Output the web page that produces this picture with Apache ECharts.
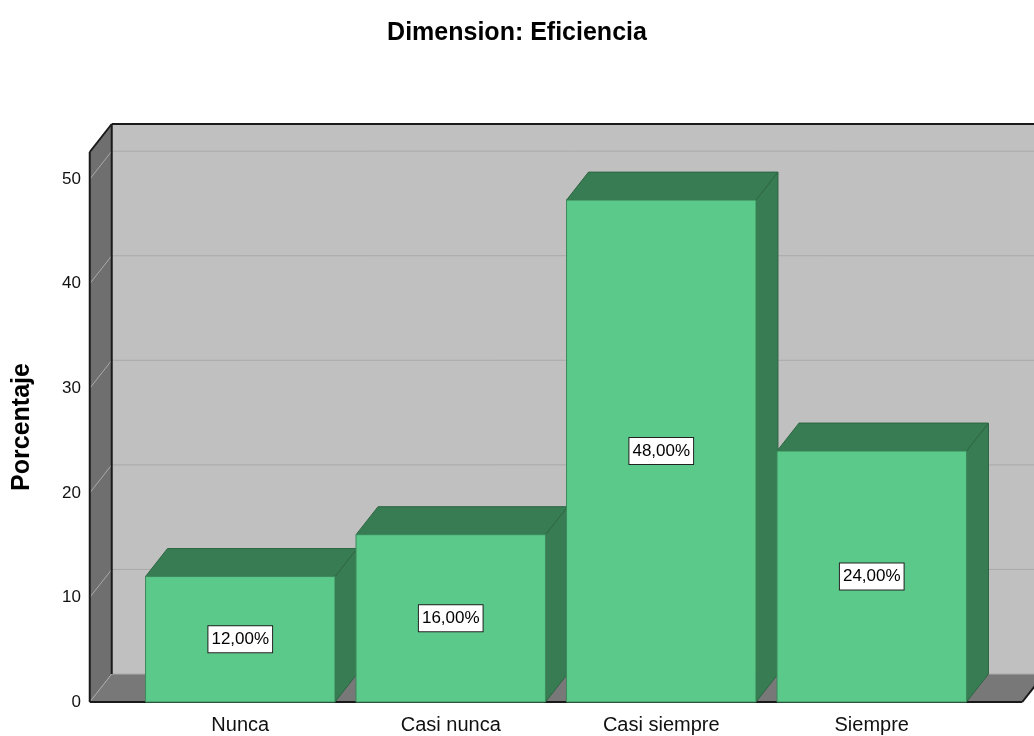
<!DOCTYPE html>
<html>
<head>
<meta charset="utf-8">
<title>Dimension: Eficiencia</title>
<script src="https://cdn.jsdelivr.net/npm/echarts@6/dist/echarts.min.js"></script>
<style>
  html, body { margin: 0; padding: 0; background: #fff; }
  #chart { width: 1034px; height: 736px; }
</style>
</head>
<body>
<div id="chart"></div>
<script>
// datos
const categories = ['Nunca', 'Casi nunca', 'Casi siempre', 'Siempre']
const percentages = [12, 16, 48, 24]
const yTicks = [0, 10, 20, 30, 40, 50]
const yMax = 52.6

const fontFamily = 'Liberation Sans, Arial, sans-serif'
// profundidad de la vista 3D (px)
const depthX = 22
const depthY = -28
const boxPad = 0.715 // extensión de la caja fuera de las categorías

const formatPct = v => v.toFixed(2).replace('.', ',') + '%'

// caja 3D: pared izquierda, pared del fondo, piso y líneas de cuadrícula
function renderBox (params, api) {
  const bw = api.size([1, 0])[0]
  const xl = api.coord([0, 0])[0] - boxPad * bw
  const xr = api.coord([categories.length - 1, 0])[0] + boxPad * bw
  const yb = api.coord([0, 0])[1]
  const yt = api.coord([0, yMax])[1]
  const edge = { stroke: '#1a1a1a', lineWidth: 2, fill: null }
  const children = [
    { type: 'polygon', shape: { points: [[xl + depthX, yt + depthY], [xr + depthX + 40, yt + depthY], [xr + depthX + 40, yb + depthY], [xl + depthX, yb + depthY]] }, style: { fill: '#c0c0c0' } },
    { type: 'polygon', shape: { points: [[xl, yt], [xl + depthX, yt + depthY], [xl + depthX, yb + depthY], [xl, yb]] }, style: { fill: '#6f6f6f' } },
    { type: 'polygon', shape: { points: [[xl, yb], [xl + depthX, yb + depthY], [xr + depthX, yb + depthY], [xr, yb]] }, style: { fill: '#787878' } }
  ]
  yTicks.forEach(t => {
    const y = api.coord([0, t])[1]
    children.push({ type: 'polyline', shape: { points: [[xl, y], [xl + depthX, y + depthY], [xr + depthX + 40, y + depthY]] }, style: { stroke: '#a9a9a9', lineWidth: 1, fill: null } })
  })
  children.push(
    { type: 'line', shape: { x1: xl, y1: yt, x2: xl, y2: yb }, style: edge },
    { type: 'line', shape: { x1: xl, y1: yt, x2: xl + depthX, y2: yt + depthY }, style: edge },
    { type: 'line', shape: { x1: xl + depthX, y1: yt + depthY, x2: xr + depthX + 40, y2: yt + depthY }, style: edge },
    { type: 'line', shape: { x1: xl + depthX, y1: yt + depthY, x2: xl + depthX, y2: yb + depthY }, style: edge },
    { type: 'line', shape: { x1: xl, y1: yb, x2: xr, y2: yb }, style: edge },
    { type: 'line', shape: { x1: xr, y1: yb, x2: xr + depthX, y2: yb + depthY }, style: edge }
  )
  return { type: 'group', children }
}

// barras 3D con etiqueta de porcentaje
function renderBar (params, api) {
  const idx = api.value(0)
  const val = api.value(1)
  const bw = api.size([1, 0])[0] * 0.9
  const base = api.coord([idx, 0])
  const top = api.coord([idx, val])
  const mid = api.coord([idx, val / 2])
  const x0 = base[0] - bw / 2
  const x1 = base[0] + bw / 2
  const yb = base[1]
  const yt = top[1]
  const dark = { fill: '#377c52', stroke: '#2d6643', lineWidth: 1 }
  return {
    type: 'group',
    children: [
      { type: 'polygon', shape: { points: [[x1, yt], [x1 + depthX, yt + depthY], [x1 + depthX, yb + depthY], [x1, yb]] }, style: dark },
      { type: 'polygon', shape: { points: [[x0, yt], [x0 + depthX, yt + depthY], [x1 + depthX, yt + depthY], [x1, yt]] }, style: dark },
      { type: 'rect', shape: { x: x0, y: yt, width: bw, height: yb - yt }, style: { fill: '#5bc98a', stroke: '#3d8a5c', lineWidth: 1 } },
      {
        type: 'text',
        x: mid[0],
        y: mid[1],
        style: {
          text: formatPct(val),
          fontFamily,
          fontSize: 17,
          fill: '#000',
          align: 'center',
          verticalAlign: 'middle',
          backgroundColor: '#fff',
          borderColor: '#222',
          borderWidth: 1,
          padding: [5, 3, 4, 3]
        }
      }
    ]
  }
}

const chart = echarts.init(document.getElementById('chart'))
chart.setOption({
  backgroundColor: '#fff',
  animation: false,
  title: {
    text: 'Dimension: Eficiencia',
    left: 'center',
    top: 16,
    textStyle: { fontFamily, fontSize: 25, fontWeight: 'bold', color: '#000' }
  },
  grid: { left: 135, right: 57, top: 152, bottom: 34 },
  xAxis: {
    type: 'category',
    data: categories,
    axisLine: { show: false },
    axisTick: { show: false },
    axisLabel: { fontFamily, fontSize: 20, color: '#111', margin: 13 }
  },
  yAxis: {
    type: 'value',
    min: 0,
    max: yMax,
    interval: 10,
    offset: 46,
    name: 'Porcentaje',
    nameLocation: 'middle',
    nameGap: 54,
    nameTextStyle: { fontFamily, fontSize: 25, fontWeight: 'bold', color: '#000' },
    axisLine: { show: false },
    axisTick: { show: false },
    splitLine: { show: false },
    axisLabel: { fontFamily, fontSize: 17, color: '#111', margin: 8, showMaxLabel: false }
  },
  series: [
    {
      type: 'custom',
      silent: true,
      z: 1,
      renderItem: renderBox,
      data: [[0, 0]]
    },
    {
      type: 'custom',
      z: 2,
      renderItem: renderBar,
      encode: { x: 0, y: 1 },
      data: percentages.map((v, i) => [i, v])
    }
  ]
})
</script>
</body>
</html>
